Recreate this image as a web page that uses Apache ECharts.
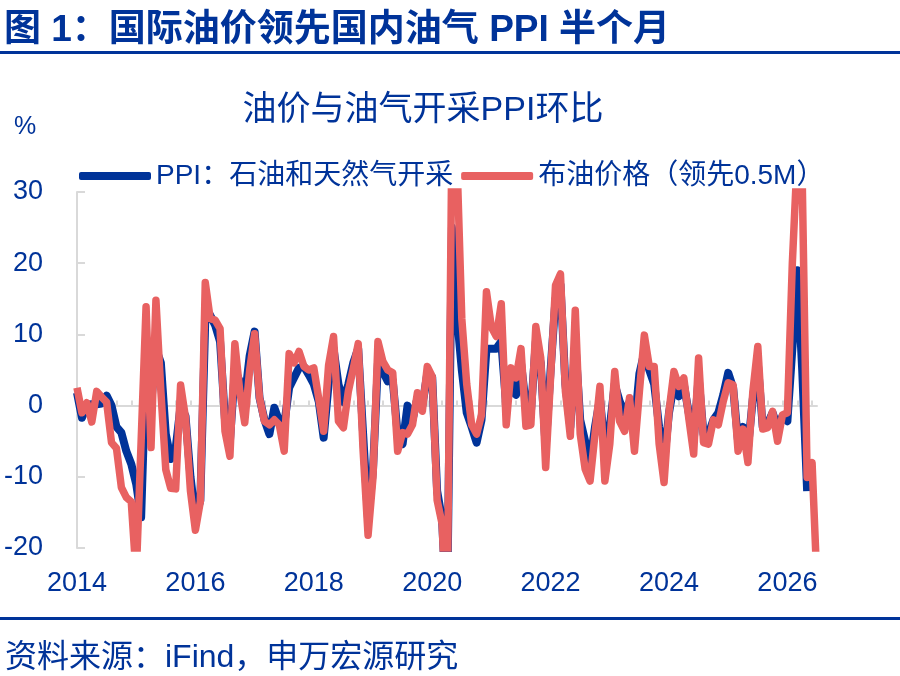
<!DOCTYPE html>
<html>
<head>
<meta charset="utf-8">
<title>油价与油气开采PPI环比</title>
<script src="https://cdn.jsdelivr.net/npm/echarts@6/dist/echarts.min.js"></script>
<style>
    html, body { margin: 0; padding: 0; background: #fff; }
    #main { width: 900px; height: 676px; }
</style>
</head>
<body>
<div id="main"></div>
<script>
//图表容器
var chart = echarts.init(document.getElementById('main'));

var BLUE = '#003399';
var RED = '#E86161';
var FONT = '"Liberation Sans", "Noto Sans CJK SC", sans-serif';

//月份：2014-01 起，共151个月
var startYear = 2014;
var months = [];
for (var i = 0; i < 151; i++) {
    var y = startYear + Math.floor(i / 12);
    var m = i % 12 + 1;
    months.push(y + '-' + (m < 10 ? '0' + m : m));
}

//PPI：石油和天然气开采 环比（%）
var ppiOil = [
    1.8, -1.7, 0.1, 0.2, 0.2, 0.3, 1.4, 0, -3, -3.8, -6.4, -8.2,
    -11, -15.7, 6, 0, 8, 6, -4, -7.5, -6, 0, -1.5, -10,
    -15.7, -13.3, 12, 12.7, 11.3, 9, -2, -5, 5, 3.4, 1, 7,
    10.4, 1.1, -2, -4, -0.3, -2.2, -2.7, 2.5, 3.9, 5.3, 5.5, 4.3,
    3, 0.6, -4.5, 3, 8, 3, 0.5, 3, 6, 8, -4, -16,
    -9, 6, 4.8, 3.4, 3.5, -4, -5.4, 0, -2, 1, 0, 4.5,
    4, -12, -16, -30, 25, 12.7, 5, -1, -3, -5.2, -2, 8,
    8, 8, 9, 0, 3, 1.5, 6, 0, -1, 9, 6, -6,
    5, 15, 17, 3, -3, 9, -2, -5, -8, -3, 1, -6,
    -3, 3, 0.6, -1, 0.5, -3, 4.5, 7.5, 5, 3, -3, -8,
    -1, 3, 1.3, 3, -1, -5, 4, -4, -4, -2, -1, 1.5,
    4.6, 2.5, -5, -3, -6, 1, 6, -3, -2.5, -1, -3, -1.5,
    -2.2, 8, 19, 5, -12
];

//布油价格环比（领先0.5M，%）
var brent = [
    2.5, -1.0, 0.4, -2.3, 2.0, 1.2, 0.5, -5.2, -6.0, -11.5, -12.9, -13.5,
    -24, -5, 13.9, -5.9, 14.8, 2, -9, -11.6, -11.7, 2.9, -1.7, -12,
    -17.5, -13.5, 17.3, 12.2, 12, 10.8, -3.6, -7.1, 8.7, 2, -2.4, 5,
    10.1, 1.1, -2.2, -2.7, -2, -2.7, -6.4, 7.3, 6, 7.6, 5.5, 5,
    5.3, 1, -3.6, 5.7, 9.7, -2.2, -3.1, 2.0, 5.2, 8.7, -6.4, -18.2,
    -10.1, 9.0, 6.2, 5.0, 4.6, -6.4, -3.8, -4.0, -2.7, 1.8, -0.8, 5.5,
    4.1, -13.3, -16.6, -32, 38, 35, 12.2, 3, -2.7, -4.0, -1.3, 16,
    11, 9.7, 14.3, -2.7, 5.3, 3.9, 8.0, -2.9, -2.7, 11.1, 6.7, -8.7,
    4, 16.9, 18.5, 2.0, -4.3, 13.4, -4, -8.9, -10.6, -4.0, 2.7, -10.6,
    -5.4, 4.8, -2.2, -3.6, 1.1, -6.4, 2.0, 9.9, 5.5, 5.5, -5.4, -10.8,
    -0.8, 4.8, 2.7, 3.9, -1.7, -6.8, 6.7, -5.2, -5.4, -2.0, -2.7, 0.6,
    3.2, 2.9, -6.4, -3.3, -8.0, 2.0, 8.3, -3.3, -3.1, -0.8, -5.0, -1.3,
    -1.0, 20, 35, 32, -10.1, -8, -25
];

//纵轴刻度
var yMin = -20;
var yMax = 30;
var yStep = 10;

var option = {
    backgroundColor: '#fff',
    animation: false,
    title: [
        {
            text: '图 1：国际油价领先国内油气 PPI 半个月',
            left: -1,
            top: 7,
            textStyle: { color: BLUE, fontSize: 37, fontWeight: 'bold', fontFamily: FONT }
        },
        {
            text: '油价与油气开采PPI环比',
            left: 418,
            top: 89,
            textAlign: 'center',
            textStyle: { color: BLUE, fontSize: 34, fontWeight: 'normal', fontFamily: FONT }
        },
        {
            text: '%',
            left: 9,
            top: 110,
            textStyle: { color: BLUE, fontSize: 25, fontWeight: 'normal', fontFamily: FONT }
        },
        {
            text: '资料来源：iFind，申万宏源研究',
            left: 0,
            top: 637,
            textStyle: { color: BLUE, fontSize: 32, fontWeight: 'normal', fontFamily: FONT }
        }
    ],
    graphic: [
        { type: 'rect', left: 0, top: 51, shape: { width: 900, height: 3 }, style: { fill: BLUE } },
        { type: 'rect', left: 0, top: 617, shape: { width: 900, height: 3 }, style: { fill: BLUE } }
    ],
    legend: {
        left: 74,
        top: 157,
        itemWidth: 72,
        itemHeight: 8,
        itemGap: 8,
        icon: 'roundRect',
        textStyle: { color: BLUE, fontSize: 28, fontFamily: FONT },
        data: ['PPI：石油和天然气开采', '布油价格（领先0.5M）']
    },
    grid: {
        left: 77,
        right: 83,
        top: 192,
        bottom: 128,
        containLabel: false
    },
    xAxis: [
        {
            //底部年份标签
            type: 'category',
            data: months,
            position: 'bottom',
            boundaryGap: false,
            axisLine: { show: false, onZero: false },
            axisTick: { show: false },
            splitLine: { show: false },
            axisLabel: {
                color: BLUE,
                fontSize: 27,
                fontFamily: FONT,
                margin: 22,
                interval: function (index) { return index % 24 === 0; },
                formatter: function (v) { return v.slice(0, 4); }
            }
        },
        {
            //零轴线与季度刻度
            type: 'category',
            data: months,
            position: 'bottom',
            boundaryGap: false,
            axisLine: { show: true, onZero: true, lineStyle: { color: '#D9D9D9', width: 2 } },
            axisTick: {
                show: true,
                inside: true,
                length: 5,
                interval: function (index) { return index % 3 === 2; },
                lineStyle: { color: '#D9D9D9', width: 2 }
            },
            axisLabel: { show: false },
            splitLine: { show: false }
        }
    ],
    yAxis: {
        type: 'value',
        min: yMin,
        max: yMax,
        interval: yStep,
        axisLine: { show: true, lineStyle: { color: '#D9D9D9', width: 2 } },
        axisTick: { show: true, inside: true, length: 8, lineStyle: { color: '#D9D9D9', width: 2 } },
        splitLine: { show: false },
        axisLabel: { color: BLUE, fontSize: 27, fontFamily: FONT, margin: 34 }
    },
    series: [
        {
            name: 'PPI：石油和天然气开采',
            type: 'line',
            xAxisIndex: 0,
            data: ppiOil,
            symbol: 'none',
            clip: true,
            lineStyle: { color: BLUE, width: 8, join: 'round' },
            itemStyle: { color: BLUE }
        },
        {
            name: '布油价格（领先0.5M）',
            type: 'line',
            xAxisIndex: 0,
            data: brent,
            symbol: 'none',
            clip: true,
            lineStyle: { color: RED, width: 7.5, join: 'round' },
            itemStyle: { color: RED }
        }
    ]
};

//渲染
chart.setOption(option);
</script>
</body>
</html>
